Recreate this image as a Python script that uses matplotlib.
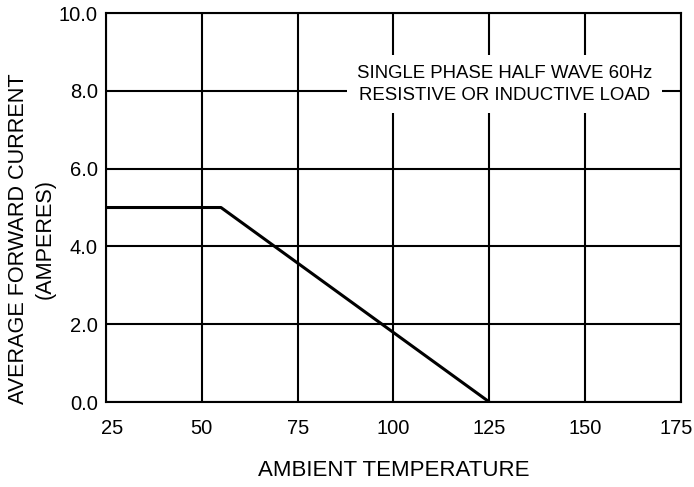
import matplotlib.pyplot as plt
import matplotlib.transforms as mtransforms

# derating curve: ambient temperature vs average forward current
temp = [25, 55, 125]
current = [5.0, 5.0, 0.0]

x_ticks = [25, 50, 75, 100, 125, 150, 175]
y_ticks = [0, 2, 4, 6, 8, 10]
y_tick_labels = ["0.0", "2.0", "4.0", "6.0", "8.0", "10.0"]

plt.rcParams['font.family'] = ['Liberation Sans', 'DejaVu Sans']

fig = plt.figure(figsize=(6.94, 4.87), dpi=100)
ax = fig.add_axes([0.1527, 0.1745, 0.8286, 0.7988])

ax.set_xlim(25, 175)
ax.set_ylim(0, 10)
ax.set_xticks(x_ticks)
ax.set_yticks(y_ticks)
ax.set_yticklabels(y_tick_labels)
ax.grid(True, color='black', linewidth=1.5)
ax.set_axisbelow(True)
for s in ax.spines.values():
    s.set_linewidth(1.5)

ax.tick_params(axis='both', length=0, labelsize=14.5)
ax.tick_params(axis='x', pad=12)
ax.tick_params(axis='y', pad=6)

# nudge the end labels inward so they stay inside the figure
xlabels = ax.get_xticklabels()
xlabels[0].set_transform(xlabels[0].get_transform() +
                         mtransforms.ScaledTranslation(6 / 100, 0, fig.dpi_scale_trans))
xlabels[-1].set_transform(xlabels[-1].get_transform() +
                          mtransforms.ScaledTranslation(-5 / 100, 0, fig.dpi_scale_trans))

ax.plot(temp, current, color='black', linewidth=2.2, solid_capstyle='butt', zorder=3)

ax.text(129, 8.17, "SINGLE PHASE HALF WAVE 60Hz\nRESISTIVE OR INDUCTIVE LOAD",
        ha='center', va='center', fontsize=13.4, linespacing=1.4, zorder=4,
        bbox=dict(facecolor='white', edgecolor='none', pad=7))

ax.set_xlabel("AMBIENT TEMPERATURE", fontsize=16, labelpad=16)
ax.set_ylabel("AVERAGE FORWARD CURRENT\n(AMPERES)", fontsize=15.6, linespacing=1.35)
ax.yaxis.set_label_coords(-0.087, 0.42)

fig.savefig("out.png", dpi=100)
